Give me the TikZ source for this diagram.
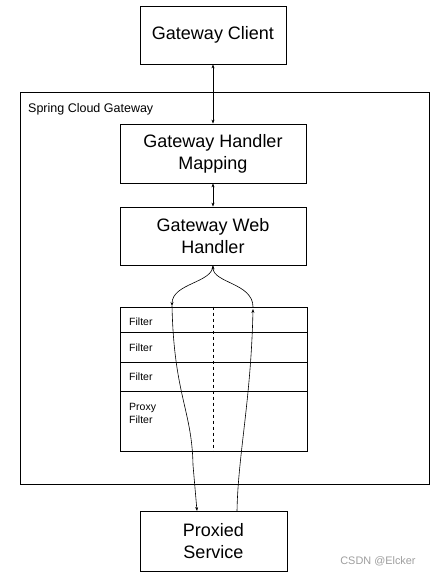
\documentclass[tikz,border=0pt]{standalone}
\usepackage{fontspec}
\setmainfont{Liberation Sans}
\usetikzlibrary{arrows.meta}
\tikzset{box/.style={draw, line width=0.8pt, rectangle, align=center, inner sep=0pt,
    font=\fontsize{18}{22}\selectfont},
  row/.style={draw, line width=0.8pt, rectangle, minimum width=187pt, inner sep=0pt},
  rowlabel/.style={anchor=west, inner sep=0pt, font=\fontsize{10.5}{13}\selectfont},
  dbl/.style={{Stealth[length=4pt,width=3pt]}-{Stealth[length=4pt,width=3pt]}, line width=0.6pt},
  flow/.style={-{Stealth[length=4pt,width=3pt]}, line width=0.6pt}}

\begin{document}
\begin{tikzpicture}[x=1pt, y=-1pt]
\useasboundingbox (0,0) rectangle (431,576);
\node[box, minimum width=146pt, minimum height=58pt] (client) at (213,35) {\raisebox{-2pt}{Gateway Client}};
\node[draw, line width=0.8pt, minimum width=409pt, minimum height=392pt, inner sep=0pt] (scg) at (224.5,288) {};
\node[anchor=west, inner sep=0pt, font=\fontsize{12.5}{15}\selectfont] (scglabel) at (28,109) {Spring Cloud Gateway};
\node[box, minimum width=186pt, minimum height=59pt] (mapping) at (213,153.5) {Gateway Handler\\Mapping};
\node[box, minimum width=186pt, minimum height=58pt] (web) at (213,236) {Gateway Web\\Handler};
\node[row, minimum height=25pt] (f1) at (213.5,319.5) {};
\node[row, minimum height=30pt] (f2) at (213.5,347) {};
\node[row, minimum height=29pt] (f3) at (213.5,376.5) {};
\node[row, minimum height=60pt] (pf) at (213.5,421) {};
\node[rowlabel] (l1) at (129,322) {Filter};
\node[rowlabel] (l2) at (129,348) {Filter};
\node[rowlabel] (l3) at (129,377) {Filter};
\node[rowlabel, anchor=north west, align=left] (l4) at (129,403.5) {Proxy\\Filter};
\node[box, minimum width=147pt, minimum height=60pt] (proxied) at (213.5,541) {Proxied\\Service};
\node[text=black!38, inner sep=0pt, font=\fontsize{10.9}{13}\selectfont] (wm) at (378,561) {CSDN @Elcker};
\draw[dashed, line width=0.8pt] (f1.north) -- (pf.south);
\draw[dbl] (client) -- (mapping);
\draw[dbl] (mapping) -- (web);
\coordinate (lsplit) at (172,306);
\coordinate (rjoin) at (253,307);
\coordinate (rup) at (253,309);
\coordinate (pin) at (197,511);
\coordinate (pout) at (237,511);
\draw[flow] (web.south) .. controls (213,283) and (172,283) .. (lsplit);
\draw[flow] (rjoin) .. controls (253,283) and (213,283) .. (web.south);
\draw[flow] (lsplit) .. controls (174,395) and (192,410) .. (193,465) -- (pin);
\draw[flow] (pout) .. controls (238,455) and (251,400) .. (rup);
\end{tikzpicture}
\end{document}
